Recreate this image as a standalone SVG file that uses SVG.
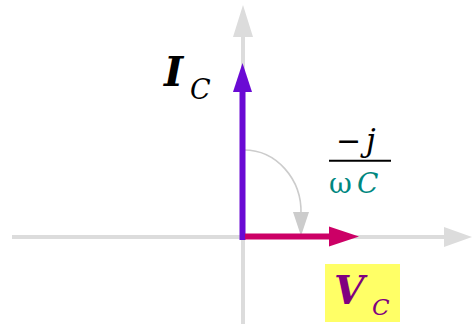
<svg xmlns="http://www.w3.org/2000/svg" width="472" height="324" viewBox="0 0 472 324">
<style>
.ser{font-family:"DejaVu Serif","Liberation Serif",serif;font-style:italic}
.ax{stroke:#dcdcdc;stroke-width:4;fill:none}
.axh{fill:#dcdcdc}
</style>
<rect width="472" height="324" fill="#fff"/>
<g id="axes">
<line class="ax" x1="12" y1="237" x2="446" y2="237"/>
<polygon class="axh" points="472,237 444,227 444,247"/>
<line class="ax" x1="243" y1="324" x2="243" y2="34"/>
<polygon class="axh" points="243,5 233,37 253,37"/>
</g>
<g id="connectors">
<path d="M244,150 A57 62 0 0 1 301,214" fill="none" stroke="#cccccc" stroke-width="1.6"/>
<polygon points="301,236 293,212 309,212" fill="#cccccc"/>
</g>
<g id="IC">
<line x1="242.5" y1="240" x2="242.5" y2="90" stroke="#6a0ad4" stroke-width="6"/>
<polygon points="242.5,63 233,92 252,92" fill="#6a0ad4"/>
<text class="ser" x="164" y="86" font-size="41" font-weight="bold" fill="#000">I</text>
<text class="ser" x="190" y="99" font-size="27" fill="#000">C</text>
</g>
<g id="VC">
<line x1="245" y1="236.5" x2="331" y2="236.5" stroke="#cc0066" stroke-width="6"/>
<polygon points="359,236.5 329,226.5 329,246.5" fill="#cc0066"/>
<rect x="325" y="264" width="75" height="58" fill="#ffff66"/>
<text class="ser" x="334" y="304" font-size="39" font-weight="bold" fill="#800080">V</text>
<text class="ser" x="372" y="315" font-size="23" fill="#800080">C</text>
</g>
<g id="fraction">
<text x="336" y="151" font-size="30" fill="#000" font-family="DejaVu Serif,serif">−</text>
<text class="ser" x="366" y="151" font-size="31" fill="#000">j</text>
<line x1="329" y1="160.7" x2="391" y2="160.7" stroke="#000" stroke-width="2"/>
<text x="329" y="193" font-size="28" fill="#00877f" font-family="DejaVu Serif,serif">ω</text>
<text class="ser" x="357" y="193" font-size="28" fill="#00877f">C</text>
</g>
</svg>
